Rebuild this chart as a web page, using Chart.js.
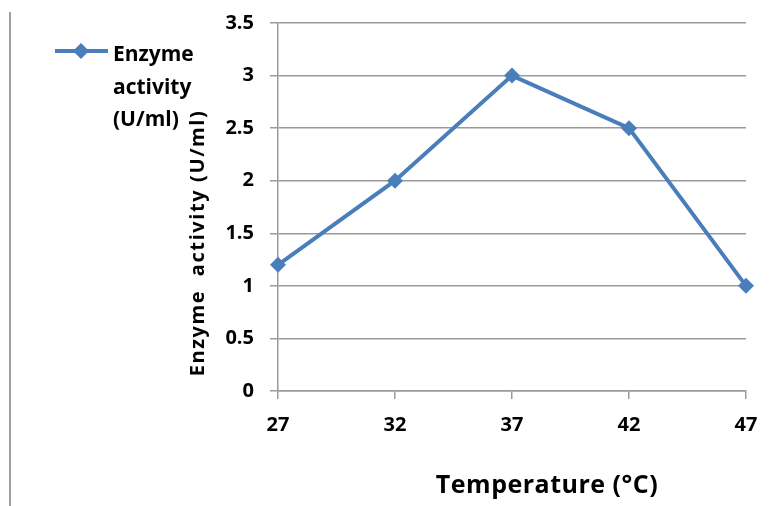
<!DOCTYPE html>
<html>
<head>
<meta charset="utf-8">
<script src="https://cdn.jsdelivr.net/npm/chart.js@4"></script>
<style>
  html, body { margin: 0; padding: 0; background: #fff; }
  #wrap { width: 782px; height: 506px; position: relative; }
</style>
</head>
<body>
<div id="wrap"><canvas id="chart" width="782" height="506"></canvas></div>
<script>
const temperatures = [27, 32, 37, 42, 47];
const activity = [1.2, 2, 3, 2.5, 1];
const seriesLabel = 'Enzyme activity (U/ml)';
const legendLines = ['Enzyme', 'activity', '(U/ml)'];
const xTitle = 'Temperature (°C)';
const yTitle = 'Enzyme  activity (U/ml)';

const FONT = '"Open Sans", Lato, sans-serif';
const BLUE = '#4a7ebb';
const GRID = '#9a9a9a';

// titles, legend and the frame line on the left are drawn by hand
const decorPlugin = {
    id: 'decor',
    afterDraw(chart) {
        const ctx = chart.ctx;
        ctx.save();
        // left border line
        ctx.strokeStyle = '#a0a0a0';
        ctx.lineWidth = 2;
        ctx.beginPath();
        ctx.moveTo(10, 12); ctx.lineTo(10, 506);
        ctx.stroke();

        ctx.fillStyle = '#000';
        ctx.textAlign = 'center';
        ctx.textBaseline = 'alphabetic';
        // y title
        ctx.save();
        ctx.font = 'bold 20px ' + FONT;
        ctx.letterSpacing = '1.6px';
        ctx.translate(197, 243);
        ctx.rotate(-Math.PI / 2);
        ctx.fillText(yTitle, 0, 7);
        ctx.restore();

        // x title
        ctx.save();
        ctx.font = 'bold 25px ' + FONT;
        ctx.letterSpacing = '0.5px';
        ctx.fillText(xTitle, 547, 493);
        ctx.restore();

        // legend
        ctx.strokeStyle = BLUE;
        ctx.lineWidth = 4;
        ctx.beginPath();
        ctx.moveTo(55, 51); ctx.lineTo(108, 51);
        ctx.stroke();
        ctx.fillStyle = BLUE;
        ctx.beginPath();
        ctx.moveTo(81, 43); ctx.lineTo(89, 51); ctx.lineTo(81, 59); ctx.lineTo(73, 51);
        ctx.closePath();
        ctx.fill();
        ctx.fillStyle = '#000';
        ctx.font = 'bold 21px ' + FONT;
        ctx.textAlign = 'left';
        legendLines.forEach((t, i) => ctx.fillText(t, 113, 61 + i * 32.5));
        ctx.restore();
    }
};

new Chart(document.getElementById('chart'), {
    type: 'line',
    data: {
        datasets: [{
            label: seriesLabel,
            data: temperatures.map((t, i) => ({ x: t, y: activity[i] })),
            borderColor: BLUE,
            backgroundColor: BLUE,
            borderWidth: 4,
            pointStyle: 'rectRot',
            pointRadius: 8,
            pointBackgroundColor: BLUE,
            pointBorderColor: BLUE,
            pointBorderWidth: 0,
            tension: 0,
            clip: false
        }]
    },
    options: {
        responsive: false,
        animation: false,
        devicePixelRatio: 1,
        layout: { padding: { top: 23, right: 36, left: 0, bottom: 0 } },
        plugins: { legend: { display: false }, tooltip: { enabled: false } },
        scales: {
            x: {
                type: 'linear', min: 27, max: 47,
                ticks: { stepSize: 5, color: '#000', font: { family: FONT, size: 20, weight: 'bold' }, padding: 14 },
                grid: { drawOnChartArea: false, drawTicks: true, tickLength: 8, color: GRID, lineWidth: 1.5 },
                border: { color: GRID, width: 1.5 },
                afterFit: s => { s.height = 115; s.paddingLeft = 0; s.paddingRight = 0; }
            },
            y: {
                min: 0, max: 3.5,
                ticks: { stepSize: 0.5, color: '#000', font: { family: FONT, size: 20, weight: 'bold' }, padding: 16,
                         callback: v => String(v) },
                grid: { color: GRID, lineWidth: 1.5, tickLength: 8 },
                border: { color: GRID, width: 1.5 },
                afterFit: s => { s.width = 278; s.paddingTop = 0; s.paddingBottom = 0; }
            }
        }
    },
    plugins: [decorPlugin]
});
</script>
</body>
</html>
